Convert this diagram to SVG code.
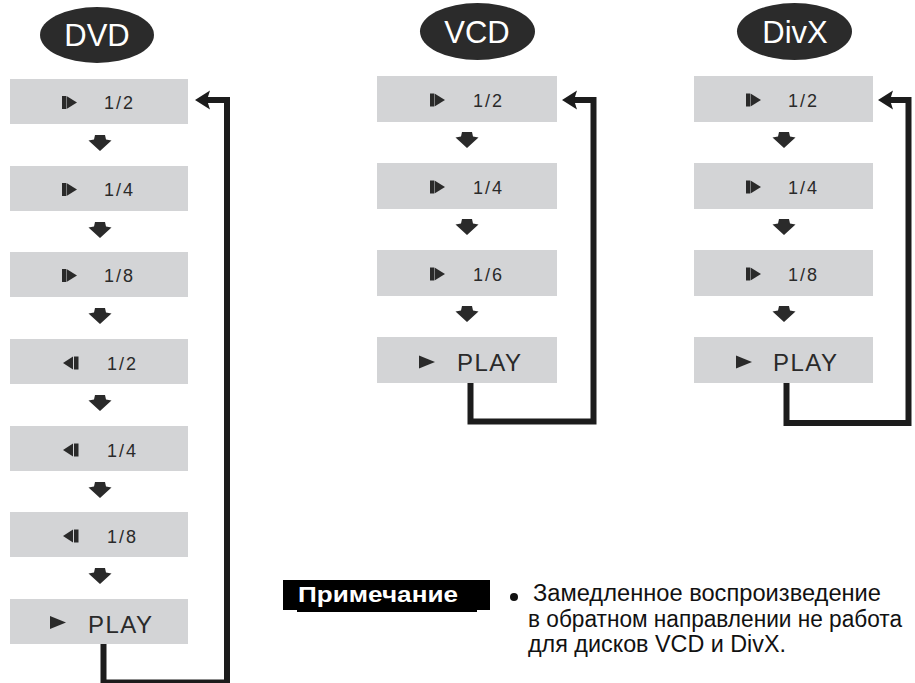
<svg xmlns="http://www.w3.org/2000/svg" xmlns:xlink="http://www.w3.org/1999/xlink" width="915" height="683" viewBox="0 0 915 683">
<style>
.box{fill:#d3d4d6}
.hdr{fill:#2b2b2b}
.hdrt{font-family:"Liberation Sans",Arial,sans-serif;font-size:31px;fill:#ffffff;text-anchor:middle}
.lbl{font-family:"Liberation Sans",Arial,sans-serif;font-size:18px;fill:#2a2a2a;letter-spacing:2px}
.play{font-family:"Liberation Sans",Arial,sans-serif;font-size:24px;fill:#2a2a2a;letter-spacing:1.5px}
.ic{fill:#2a2a2a}
.conn{fill:none;stroke:#1c1c1c;stroke-width:6;stroke-linejoin:miter;stroke-linecap:butt}
.head{fill:#1c1c1c}
.note{font-family:"Liberation Sans",Arial,sans-serif;font-size:23px;fill:#111111}
.notet{font-family:"Liberation Sans",Arial,sans-serif;font-size:22px;font-weight:bold;fill:#ffffff}
</style>
<defs>
<g id="fwd"><rect x="0" y="-6.5" width="4" height="13"/><polygon points="4.5,-6.5 15,0 4.5,6.5"/></g>
<g id="rev"><polygon points="0,0 10,-6.5 10,6.5"/><rect x="11" y="-6.5" width="4.5" height="13"/></g>
<g id="ply"><polygon points="0,-6.5 16,0 0,6.5"/></g>
<path id="dn" d="M-5,0 H5 L6,4.5 L11.5,5.5 L0,16 L-11.5,5.5 L-6,4.5 Z"/>
</defs>

<!-- DVD column -->
<g id="dvd-header"><ellipse class="hdr" cx="97" cy="35" rx="57" ry="28"/><text class="hdrt" x="97" y="46">DVD</text></g>
<g id="dvd-f12"><rect class="box" x="10" y="79" width="178" height="45"/><use href="#fwd" class="ic" x="62" y="102.5"/><text class="lbl" x="104" y="109">1/2</text></g>
<g id="dvd-f14"><rect class="box" x="10" y="166" width="178" height="45"/><use href="#fwd" class="ic" x="62" y="189.5"/><text class="lbl" x="104" y="196">1/4</text></g>
<g id="dvd-f18"><rect class="box" x="10" y="252" width="178" height="45"/><use href="#fwd" class="ic" x="62" y="275.5"/><text class="lbl" x="104" y="282">1/8</text></g>
<g id="dvd-r12"><rect class="box" x="10" y="339" width="178" height="45"/><use href="#rev" class="ic" x="63" y="363"/><text class="lbl" x="107" y="369.5">1/2</text></g>
<g id="dvd-r14"><rect class="box" x="10" y="426" width="178" height="45"/><use href="#rev" class="ic" x="63" y="450"/><text class="lbl" x="107" y="456.5">1/4</text></g>
<g id="dvd-r18"><rect class="box" x="10" y="512" width="178" height="45"/><use href="#rev" class="ic" x="63" y="536"/><text class="lbl" x="107" y="542.5">1/8</text></g>
<g id="dvd-play"><rect class="box" x="10" y="599" width="178" height="45"/><use href="#ply" class="ic" x="50" y="622.5"/><text class="play" x="88" y="632.5">PLAY</text></g>

<!-- VCD column -->
<g id="vcd-header"><ellipse class="hdr" cx="477.5" cy="31.5" rx="57.5" ry="28.5"/><text class="hdrt" x="477" y="42.5">VCD</text></g>
<g id="vcd-f12"><rect class="box" x="377" y="76" width="180" height="46"/><use href="#fwd" class="ic" x="430" y="100"/><text class="lbl" x="473" y="107">1/2</text></g>
<g id="vcd-f14"><rect class="box" x="377" y="163" width="180" height="46"/><use href="#fwd" class="ic" x="430" y="187"/><text class="lbl" x="473" y="194">1/4</text></g>
<g id="vcd-f16"><rect class="box" x="377" y="250" width="180" height="46"/><use href="#fwd" class="ic" x="430" y="274"/><text class="lbl" x="473" y="281">1/6</text></g>
<g id="vcd-play"><rect class="box" x="377" y="337" width="180" height="46"/><use href="#ply" class="ic" x="419" y="362"/><text class="play" x="457" y="370.5">PLAY</text></g>

<!-- DivX column -->
<g id="divx-header"><ellipse class="hdr" cx="794.5" cy="31.5" rx="57.5" ry="28.5"/><text class="hdrt" x="795" y="42.5">DivX</text></g>
<g id="divx-f12"><rect class="box" x="694" y="76" width="179" height="46"/><use href="#fwd" class="ic" x="746" y="100"/><text class="lbl" x="788" y="107">1/2</text></g>
<g id="divx-f14"><rect class="box" x="694" y="163" width="179" height="46"/><use href="#fwd" class="ic" x="746" y="187"/><text class="lbl" x="788" y="194">1/4</text></g>
<g id="divx-f18"><rect class="box" x="694" y="250" width="179" height="46"/><use href="#fwd" class="ic" x="746" y="274"/><text class="lbl" x="788" y="281">1/8</text></g>
<g id="divx-play"><rect class="box" x="694" y="337" width="179" height="46"/><use href="#ply" class="ic" x="736" y="362"/><text class="play" x="773" y="370.5">PLAY</text></g>

<!-- connectors -->
<g id="connectors">
<g class="ic">
<use href="#dn" x="100" y="135"/><use href="#dn" x="100" y="222"/><use href="#dn" x="100" y="308"/>
<use href="#dn" x="100" y="395"/><use href="#dn" x="100" y="482"/><use href="#dn" x="100" y="568"/>
<use href="#dn" x="467" y="132"/><use href="#dn" x="467" y="219"/><use href="#dn" x="467" y="306"/>
<use href="#dn" x="784" y="132"/><use href="#dn" x="784" y="219"/><use href="#dn" x="784" y="306"/>
</g>
<path class="conn" d="M103.5,644 V682.5 H227 V100 H206"/>
<polygon class="head" points="195,100 210,90.5 207,100 210,109.5"/>
<path class="conn" d="M470.5,383 V421.5 H593.5 V100 H573"/>
<polygon class="head" points="562,100 577,90.5 574,100 577,109.5"/>
<path class="conn" d="M786.5,383 V423 H908.5 V100 H889"/>
<polygon class="head" points="878,100 893,90.5 890,100 893,109.5"/>
</g>

<!-- note -->
<g id="note-label">
<rect x="283" y="580" width="207" height="30" fill="#000000"/>
<rect x="297" y="609" width="180" height="3" fill="#000000"/>
<text class="notet" x="298" y="602" textLength="160" lengthAdjust="spacingAndGlyphs">Примечание</text>
</g>
<g id="note-text">
<circle cx="514" cy="597" r="4" fill="#111111"/>
<text class="note" x="533" y="601" textLength="348" lengthAdjust="spacingAndGlyphs">Замедленное воспроизведение</text>
<text class="note" x="528" y="627" textLength="374" lengthAdjust="spacingAndGlyphs">в обратном направлении не работа</text>
<text class="note" x="528" y="652" textLength="258" lengthAdjust="spacingAndGlyphs">для дисков VCD и DivX.</text>
</g>
</svg>
